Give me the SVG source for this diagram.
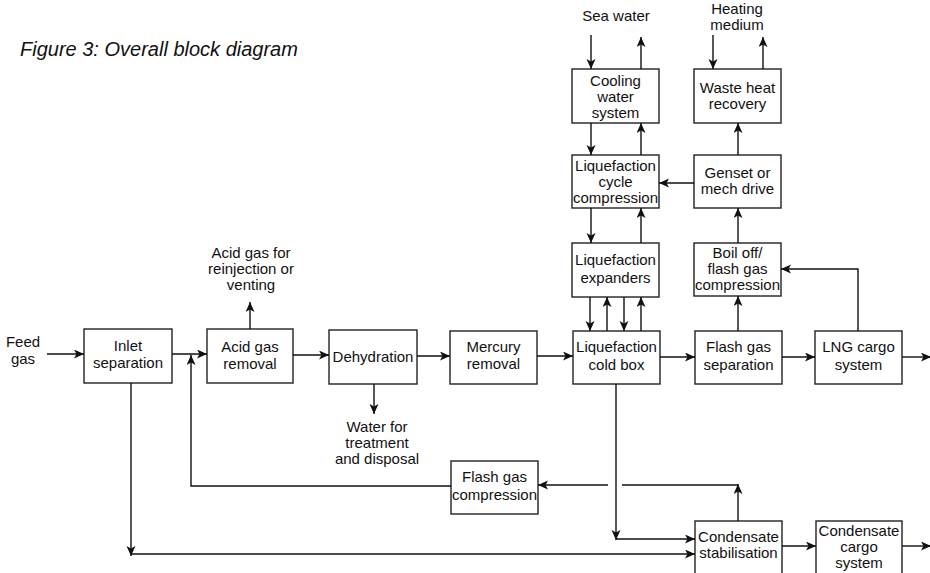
<svg xmlns="http://www.w3.org/2000/svg" width="930" height="573" viewBox="0 0 930 573">
<style>
.box{fill:#fff;stroke:#222;stroke-width:1.4}
.t{font-family:"Liberation Sans",Arial,sans-serif;font-size:15px;fill:#111;text-anchor:middle}
.title{font-family:"Liberation Sans",Arial,sans-serif;font-size:20px;font-style:italic;fill:#111}
.c path{fill:none;stroke:#111;stroke-width:1.4}
.c path.a{marker-end:url(#ah)}
</style>
<defs>
<marker id="ah" markerUnits="userSpaceOnUse" markerWidth="11" markerHeight="10" refX="10" refY="4.5" orient="auto">
<path d="M0,0 L10,4.5 L0,9 L2.5,4.5 z" fill="#111" stroke="none"/>
</marker>
</defs>
<rect width="930" height="573" fill="#fff"/>
<text class="title" x="20" y="56">Figure 3: Overall block diagram</text>

<g id="labels">
<text class="t" x="23" y="347">Feed</text><text class="t" x="23" y="364">gas</text>
<text class="t" x="251" y="258">Acid gas for</text><text class="t" x="251" y="274">reinjection or</text><text class="t" x="251" y="290">venting</text>
<text class="t" x="377" y="432">Water for</text><text class="t" x="377" y="448">treatment</text><text class="t" x="377" y="464">and disposal</text>
<text class="t" x="616" y="21">Sea water</text>
<text class="t" x="737" y="14">Heating</text><text class="t" x="737" y="30">medium</text>
</g>

<g id="inlet"><rect class="box" x="84" y="329" width="88" height="54"/><text class="t" x="128" y="351">Inlet</text><text class="t" x="128" y="368">separation</text></g>
<g id="acid"><rect class="box" x="207" y="329" width="86" height="54"/><text class="t" x="250" y="352">Acid gas</text><text class="t" x="250" y="369">removal</text></g>
<g id="dehy"><rect class="box" x="329" y="330" width="88" height="54"/><text class="t" x="373" y="362">Dehydration</text></g>
<g id="mercury"><rect class="box" x="450" y="331" width="87" height="53"/><text class="t" x="493.5" y="352">Mercury</text><text class="t" x="493.5" y="369">removal</text></g>
<g id="coldbox"><rect class="box" x="573" y="331" width="87" height="53"/><text class="t" x="616.5" y="352">Liquefaction</text><text class="t" x="616.5" y="370">cold box</text></g>
<g id="flashsep"><rect class="box" x="695" y="331" width="87" height="53"/><text class="t" x="738.5" y="352">Flash gas</text><text class="t" x="738.5" y="370">separation</text></g>
<g id="lngcargo"><rect class="box" x="815" y="331" width="87" height="53"/><text class="t" x="858.5" y="352">LNG cargo</text><text class="t" x="858.5" y="370">system</text></g>
<g id="expanders"><rect class="box" x="572" y="243" width="87" height="54"/><text class="t" x="615.5" y="265">Liquefaction</text><text class="t" x="615.5" y="283">expanders</text></g>
<g id="boiloff"><rect class="box" x="694" y="243" width="87" height="53"/><text class="t" x="737.5" y="258">Boil off/</text><text class="t" x="737.5" y="274">flash gas</text><text class="t" x="737.5" y="290">compression</text></g>
<g id="cycle"><rect class="box" x="572" y="155" width="87" height="53"/><text class="t" x="615.5" y="171">Liquefaction</text><text class="t" x="615.5" y="187">cycle</text><text class="t" x="615.5" y="203">compression</text></g>
<g id="genset"><rect class="box" x="694" y="155" width="87" height="53"/><text class="t" x="737.5" y="178">Genset or</text><text class="t" x="737.5" y="194">mech drive</text></g>
<g id="cooling"><rect class="box" x="572" y="69" width="87" height="54"/><text class="t" x="615.5" y="86">Cooling</text><text class="t" x="615.5" y="102">water</text><text class="t" x="615.5" y="118">system</text></g>
<g id="wasteheat"><rect class="box" x="694" y="69" width="87" height="54"/><text class="t" x="737.5" y="93">Waste heat</text><text class="t" x="737.5" y="109">recovery</text></g>
<g id="flashcomp"><rect class="box" x="451" y="461" width="87" height="53"/><text class="t" x="494.5" y="482">Flash gas</text><text class="t" x="494.5" y="500">compression</text></g>
<g id="condstab"><rect class="box" x="695" y="521" width="87" height="54"/><text class="t" x="738.5" y="542">Condensate</text><text class="t" x="738.5" y="558">stabilisation</text></g>
<g id="condcargo"><rect class="box" x="816" y="521" width="86" height="54"/><text class="t" x="859" y="536">Condensate</text><text class="t" x="859" y="552">cargo</text><text class="t" x="859" y="568">system</text></g>

<g id="connectors" class="c">
<path class="a" d="M47,354 H84"/>
<path class="a" d="M172,354 H207"/>
<path class="a" d="M250,329 V302"/>
<path class="a" d="M293,355 H329"/>
<path class="a" d="M417,356 H450"/>
<path class="a" d="M374,384 V414"/>
<path class="a" d="M537,356 H573"/>
<path class="a" d="M660,357 H695"/>
<path class="a" d="M782,357 H815"/>
<path class="a" d="M902,357 H931"/>
<path class="a" d="M738,331 V296"/>
<path class="a" d="M858,331 V269 H781"/>
<path class="a" d="M738,243 V208"/>
<path class="a" d="M738,155 V123"/>
<path class="a" d="M694,183 H659"/>
<path class="a" d="M713,35 V69"/>
<path class="a" d="M763,69 V37"/>
<path class="a" d="M591,35 V69"/>
<path class="a" d="M641,69 V37"/>
<path class="a" d="M591,123 V155"/>
<path class="a" d="M641,155 V123"/>
<path class="a" d="M591,208 V243"/>
<path class="a" d="M641,243 V208"/>
<path class="a" d="M590,297 V331"/>
<path class="a" d="M607,331 V297"/>
<path class="a" d="M624,297 V331"/>
<path class="a" d="M641,331 V297"/>
<path class="a" d="M616,384 V540"/>
<path class="a" d="M616,539 H695"/>
<path class="a" d="M131,383 V556"/>
<path class="a" d="M131,554 H695"/>
<path class="a" d="M782,546 H816"/>
<path class="a" d="M902,546 H931"/>
<path class="a" d="M738,521 V484"/>
<path d="M738,485 H622"/>
<path class="a" d="M608,485 H538"/>
<path class="a" d="M451,486 H191 V355"/>
</g>
</svg>
